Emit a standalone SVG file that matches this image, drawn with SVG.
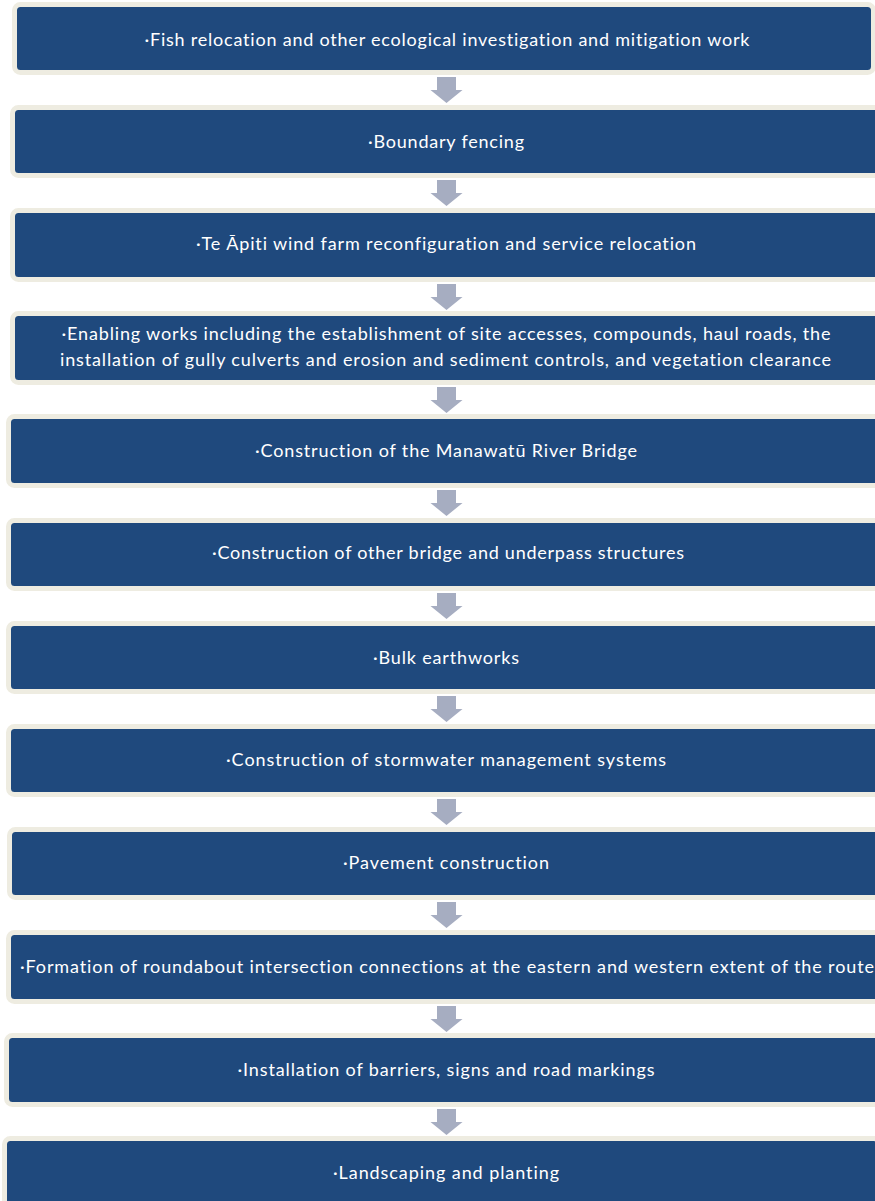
<svg xmlns="http://www.w3.org/2000/svg" xmlns:xlink="http://www.w3.org/1999/xlink" width="875" height="1201" viewBox="0 0 875 1201">
<style>
.box{fill:#1F497D;stroke:#EEECE1;stroke-width:5}
.t{fill:#FFFFFF;font-family:Lato,"Liberation Sans",Arial,sans-serif;font-size:18px;text-anchor:middle;font-variant-ligatures:none;font-feature-settings:"liga" 0,"clig" 0,"dlig" 0}
.arr{fill:#A6ADC1}
</style>
<defs>
<path id="dn" d="M-9.5 0 H9.5 V13 H16 L0 26 L-16 13 H-9.5 Z"/>
</defs>
<rect width="875" height="1201" fill="#FFFFFF"/>
<g id="connectors" class="arr">
<use xlink:href="#dn" x="446.5" y="77"/>
<use xlink:href="#dn" x="446.5" y="180"/>
<use xlink:href="#dn" x="446.5" y="284"/>
<use xlink:href="#dn" x="446.5" y="387"/>
<use xlink:href="#dn" x="446.5" y="490"/>
<use xlink:href="#dn" x="446.5" y="593"/>
<use xlink:href="#dn" x="446.5" y="696"/>
<use xlink:href="#dn" x="446.5" y="799"/>
<use xlink:href="#dn" x="446.5" y="902"/>
<use xlink:href="#dn" x="446.5" y="1006"/>
<use xlink:href="#dn" x="446.5" y="1109"/>
</g>
<g id="n1"><rect class="box" x="14.5" y="4.5" width="859" height="68" rx="6"/><text class="t" x="447" y="46" textLength="605">·Fish relocation and other ecological investigation and mitigation work</text></g>
<g id="n2"><rect class="box" x="12.5" y="107.5" width="870" height="68" rx="6"/><text class="t" x="446" y="148" textLength="156">·Boundary fencing</text></g>
<g id="n3"><rect class="box" x="12.5" y="210.5" width="870" height="69" rx="6"/><text class="t" x="446" y="250" textLength="500">·Te Āpiti wind farm reconfiguration and service relocation</text></g>
<g id="n4"><rect class="box" x="12.5" y="313.5" width="870" height="69" rx="6"/><text class="t" x="446" y="340" textLength="769">·Enabling works including the establishment of site accesses, compounds, haul roads, the</text><text class="t" x="445.5" y="366" textLength="771">installation of gully culverts and erosion and sediment controls, and vegetation clearance</text></g>
<g id="n5"><rect class="box" x="8.5" y="416.5" width="875" height="69" rx="6"/><text class="t" x="446" y="457" textLength="382">·Construction of the Manawatū River Bridge</text></g>
<g id="n6"><rect class="box" x="8.5" y="520.5" width="875" height="68" rx="6"/><text class="t" x="448" y="559" textLength="472">·Construction of other bridge and underpass structures</text></g>
<g id="n7"><rect class="box" x="8.5" y="623.5" width="875" height="68" rx="6"/><text class="t" x="446" y="664" textLength="146">·Bulk earthworks</text></g>
<g id="n8"><rect class="box" x="8.5" y="726.5" width="875" height="68" rx="6"/><text class="t" x="446" y="766" textLength="440">·Construction of stormwater management systems</text></g>
<g id="n9"><rect class="box" x="9.5" y="829.5" width="875" height="68" rx="6"/><text class="t" x="446" y="869" textLength="206">·Pavement construction</text></g>
<g id="n10"><rect class="box" x="8.5" y="932.5" width="875" height="69" rx="6"/><text class="t" x="447" y="973" textLength="854">·Formation of roundabout intersection connections at the eastern and western extent of the route</text></g>
<g id="n11"><rect class="box" x="6.5" y="1035.5" width="875" height="69" rx="6"/><text class="t" x="446" y="1076" textLength="417">·Installation of barriers, signs and road markings</text></g>
<g id="n12"><rect class="box" x="4.5" y="1138.5" width="875" height="75" rx="6"/><text class="t" x="446" y="1179" textLength="226">·Landscaping and planting</text></g>
</svg>
